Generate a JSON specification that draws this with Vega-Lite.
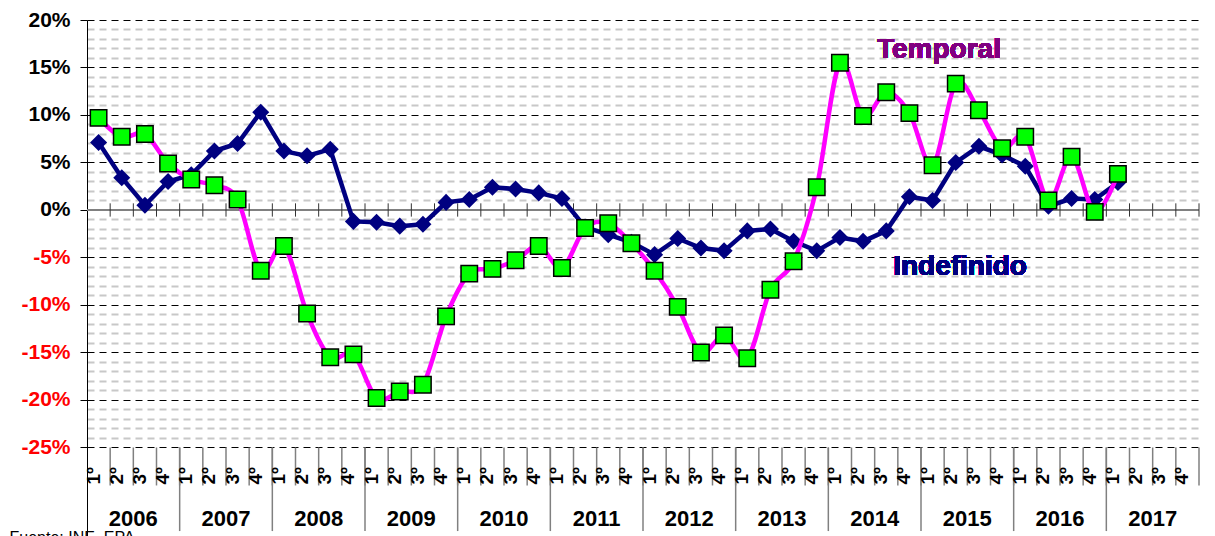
{
  "$schema": "https://vega.github.io/schema/vega-lite/v6.json",
  "width": 1112,
  "height": 516,
  "autosize": {"type": "none"},
  "padding": {"left": 87, "top": 20, "right": 16, "bottom": 0},
  "background": "white",
  "config": {"font": "Liberation Sans", "view": {"stroke": null}},
  "data": {"values": [
    {"year": 2006, "q": 1, "temporal": 9.7, "indefinido": 7.1},
    {"year": 2006, "q": 2, "temporal": 7.7, "indefinido": 3.4},
    {"year": 2006, "q": 3, "temporal": 8.0, "indefinido": 0.5},
    {"year": 2006, "q": 4, "temporal": 4.9, "indefinido": 3.0},
    {"year": 2007, "q": 1, "temporal": 3.2, "indefinido": 3.7},
    {"year": 2007, "q": 2, "temporal": 2.6, "indefinido": 6.2},
    {"year": 2007, "q": 3, "temporal": 1.1, "indefinido": 7.0},
    {"year": 2007, "q": 4, "temporal": -6.4, "indefinido": 10.3},
    {"year": 2008, "q": 1, "temporal": -3.8, "indefinido": 6.2},
    {"year": 2008, "q": 2, "temporal": -10.9, "indefinido": 5.7},
    {"year": 2008, "q": 3, "temporal": -15.5, "indefinido": 6.4},
    {"year": 2008, "q": 4, "temporal": -15.2, "indefinido": -1.2},
    {"year": 2009, "q": 1, "temporal": -19.8, "indefinido": -1.3},
    {"year": 2009, "q": 2, "temporal": -19.1, "indefinido": -1.7},
    {"year": 2009, "q": 3, "temporal": -18.4, "indefinido": -1.5},
    {"year": 2009, "q": 4, "temporal": -11.2, "indefinido": 0.8},
    {"year": 2010, "q": 1, "temporal": -6.7, "indefinido": 1.1},
    {"year": 2010, "q": 2, "temporal": -6.2, "indefinido": 2.4},
    {"year": 2010, "q": 3, "temporal": -5.3, "indefinido": 2.2},
    {"year": 2010, "q": 4, "temporal": -3.8, "indefinido": 1.8},
    {"year": 2011, "q": 1, "temporal": -6.1, "indefinido": 1.2},
    {"year": 2011, "q": 2, "temporal": -1.9, "indefinido": -1.8},
    {"year": 2011, "q": 3, "temporal": -1.4, "indefinido": -2.6},
    {"year": 2011, "q": 4, "temporal": -3.5, "indefinido": -3.4},
    {"year": 2012, "q": 1, "temporal": -6.4, "indefinido": -4.7},
    {"year": 2012, "q": 2, "temporal": -10.2, "indefinido": -3.0},
    {"year": 2012, "q": 3, "temporal": -15.0, "indefinido": -4.0},
    {"year": 2012, "q": 4, "temporal": -13.2, "indefinido": -4.3},
    {"year": 2013, "q": 1, "temporal": -15.6, "indefinido": -2.2},
    {"year": 2013, "q": 2, "temporal": -8.4, "indefinido": -2.0},
    {"year": 2013, "q": 3, "temporal": -5.4, "indefinido": -3.3},
    {"year": 2013, "q": 4, "temporal": 2.4, "indefinido": -4.3},
    {"year": 2014, "q": 1, "temporal": 15.5, "indefinido": -2.9},
    {"year": 2014, "q": 2, "temporal": 9.9, "indefinido": -3.3},
    {"year": 2014, "q": 3, "temporal": 12.4, "indefinido": -2.2},
    {"year": 2014, "q": 4, "temporal": 10.2, "indefinido": 1.4},
    {"year": 2015, "q": 1, "temporal": 4.7, "indefinido": 1.0},
    {"year": 2015, "q": 2, "temporal": 13.3, "indefinido": 5.0},
    {"year": 2015, "q": 3, "temporal": 10.5, "indefinido": 6.7},
    {"year": 2015, "q": 4, "temporal": 6.5, "indefinido": 5.8},
    {"year": 2016, "q": 1, "temporal": 7.7, "indefinido": 4.6},
    {"year": 2016, "q": 2, "temporal": 1.0, "indefinido": 0.4},
    {"year": 2016, "q": 3, "temporal": 5.6, "indefinido": 1.2},
    {"year": 2016, "q": 4, "temporal": -0.2, "indefinido": 1.1},
    {"year": 2017, "q": 1, "temporal": 3.8, "indefinido": 2.9},
    {"year": 2017, "q": 2, "temporal": null, "indefinido": null},
    {"year": 2017, "q": 3, "temporal": null, "indefinido": null},
    {"year": 2017, "q": 4, "temporal": null, "indefinido": null}
  ]},
  "transform": [
    {"calculate": "(datum.year - 2006) * 4 + datum.q", "as": "t"},
    {"calculate": "datum.t - 0.5", "as": "c"},
    {"calculate": "datum.t - 1", "as": "b"},
    {"calculate": "(datum.year - 2006) * 4 + 2", "as": "yc"},
    {"calculate": "datum.q + 'º'", "as": "qlabel"}
  ],
  "layer": [
    {
      "mark": {"type": "rule", "color": "#808080", "strokeWidth": 2},
      "encoding": {
        "y": {
          "datum": 0,
          "type": "quantitative",
          "scale": {"domain": [-34.32, 20], "nice": false, "zero": false},
          "axis": {
            "values": [-25,-24,-23,-22,-21,-20,-19,-18,-17,-16,-15,-14,-13,-12,-11,-10,-9,-8,-7,-6,-5,-4,-3,-2,-1,0,1,2,3,4,5,6,7,8,9,10,11,12,13,14,15,16,17,18,19,20],
            "tickCount": 200,
            "labelExpr": "datum.value % 5 === 0 ? datum.value + '%' : ''",
            "labelOverlap": false,
            "labelFlush": false,
            "labelBound": false,
            "labelFontSize": 21,
            "labelFontWeight": "bold",
            "labelColor": {"condition": {"test": "datum.value < 0", "value": "#FF0000"}, "value": "#000000"},
            "labelPadding": 10,
            "tickSize": 7,
            "tickColor": "#000000",
            "tickOpacity": {"condition": {"test": "datum.value % 5 === 0", "value": 1}, "value": 0},
            "domainColor": "#000000",
            "domainWidth": 1,
            "grid": true,
            "gridColor": {"condition": {"test": "datum.value % 5 === 0", "value": "#000000"}, "value": "#c8c8c8"},
            "gridWidth": {"condition": {"test": "datum.value % 5 === 0", "value": 1}, "value": 2},
            "gridDash": [7, 5],
            "title": "Fuente: INE. EPA",
            "titleAngle": 0,
            "titleAlign": "left",
            "titleBaseline": "alphabetic",
            "titleX": -78,
            "titleY": 522,
            "titleFontSize": 16,
            "titleFontWeight": "normal",
            "titleColor": "#000000"
          }
        }
      }
    },
    {
      "mark": {"type": "rule", "color": "#333333", "strokeWidth": 1},
      "encoding": {
        "x": {"field": "t", "type": "quantitative", "scale": {"domain": [0, 48], "nice": false, "zero": false}, "axis": null},
        "y": {"datum": -0.7, "type": "quantitative"},
        "y2": {"datum": 0.7}
      }
    },
    {
      "mark": {"type": "rule", "color": "#808080", "strokeWidth": 1.5},
      "encoding": {
        "x": {"field": "t", "type": "quantitative"},
        "y": {"datum": -25, "type": "quantitative"},
        "y2": {"datum": -29.0}
      }
    },
    {
      "transform": [{"filter": "datum.q === 1 && datum.year > 2006"}],
      "mark": {"type": "rule", "color": "#808080", "strokeWidth": 1.5},
      "encoding": {
        "x": {"field": "b", "type": "quantitative"},
        "y": {"datum": -25, "type": "quantitative"},
        "y2": {"datum": -33.8}
      }
    },
    {
      "mark": {"type": "text", "angle": 270, "align": "left", "baseline": "middle", "dy": -5, "fontSize": 19, "fontWeight": "bold", "color": "#000000"},
      "encoding": {
        "x": {"field": "c", "type": "quantitative"},
        "y": {"datum": -28.9, "type": "quantitative"},
        "text": {"field": "qlabel"}
      }
    },
    {
      "transform": [{"filter": "datum.q === 1"}],
      "mark": {"type": "text", "align": "center", "baseline": "middle", "fontSize": 22, "fontWeight": "bold", "color": "#000000"},
      "encoding": {
        "x": {"field": "yc", "type": "quantitative"},
        "y": {"datum": -32.5, "type": "quantitative"},
        "text": {"field": "year"}
      }
    },
    {
      "transform": [{"filter": "isValid(datum.indefinido)"}],
      "mark": {"type": "line", "color": "#000080", "strokeWidth": 4.5},
      "encoding": {
        "x": {"field": "c", "type": "quantitative"},
        "y": {"field": "indefinido", "type": "quantitative"}
      }
    },
    {
      "transform": [{"filter": "isValid(datum.indefinido)"}],
      "mark": {"type": "point", "shape": "diamond", "filled": true, "size": 290, "color": "#000080", "opacity": 1},
      "encoding": {
        "x": {"field": "c", "type": "quantitative"},
        "y": {"field": "indefinido", "type": "quantitative"}
      }
    },
    {
      "transform": [{"filter": "isValid(datum.temporal)"}],
      "mark": {"type": "line", "color": "#FF00FF", "strokeWidth": 4.5, "interpolate": "cardinal", "tension": 0},
      "encoding": {
        "x": {"field": "c", "type": "quantitative"},
        "y": {"field": "temporal", "type": "quantitative"}
      }
    },
    {
      "transform": [{"filter": "isValid(datum.temporal)"}],
      "mark": {"type": "point", "shape": "square", "filled": true, "size": 270, "fill": "#00FF00", "stroke": "#000000", "strokeWidth": 1.5, "opacity": 1},
      "encoding": {
        "x": {"field": "c", "type": "quantitative"},
        "y": {"field": "temporal", "type": "quantitative"}
      }
    },
    {
      "mark": {"type": "text", "align": "left", "baseline": "alphabetic", "fontSize": 28, "fontWeight": "bold", "color": "#800080"},
      "encoding": {
        "x": {"datum": 34.1, "type": "quantitative"},
        "y": {"datum": 16.0, "type": "quantitative"},
        "text": {"value": "Temporal"}
      }
    },
    {
      "mark": {"type": "text", "align": "left", "baseline": "alphabetic", "fontSize": 28, "fontWeight": "bold", "color": "#000080"},
      "encoding": {
        "x": {"datum": 34.8, "type": "quantitative"},
        "y": {"datum": -6.8, "type": "quantitative"},
        "text": {"value": "Indefinido"}
      }
    }
  ]
}
